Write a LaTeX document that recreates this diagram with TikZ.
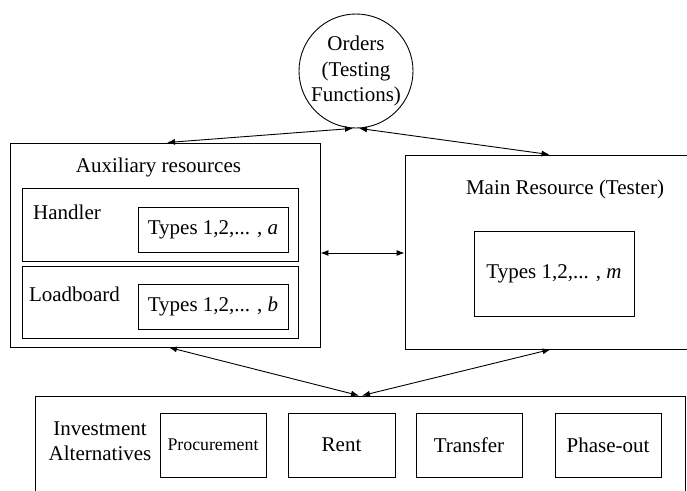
\documentclass[tikz,border=0pt]{standalone}
\usepackage{fontspec}
\setmainfont{Liberation Serif}
\newfontfamily\tnr{Liberation Serif}
\usetikzlibrary{arrows.meta}
\tikzset{
  box/.style={draw, line width=0.9pt, rectangle, inner sep=0pt},
  lbl/.style={inner sep=0pt, font=\tnr\fontsize{21}{25}\selectfont, align=center},
  small/.style={inner sep=0pt, font=\tnr\fontsize{17.8}{21}\selectfont, align=center},
  link/.style={line width=0.9pt, {Latex[length=8pt,width=6pt]}-{Latex[length=8pt,width=6pt]}}
}
\begin{document}
\begin{tikzpicture}[x=1pt,y=-1pt]
\useasboundingbox (0,0) rectangle (687,490);
\clip (0,0) rectangle (687,490);
% Orders
\node[draw, circle, line width=0.9pt, minimum size=114pt, inner sep=0pt, font=\tnr\fontsize{21}{25.5}\selectfont, align=center] (orders) at (356,71) {Orders\\(Testing\\Functions)};
% Auxiliary
\node[box, minimum width=310pt, minimum height=204pt] (aux) at (165,245) {};
\node[lbl] (auxl) at (158.5,167) {Auxiliary resources};
\node[box, minimum width=276pt, minimum height=73pt] (handler) at (160,224.5) {};
\node[lbl] (handl) at (67,212) {Handler};
\node[box, minimum width=150pt, minimum height=45pt, lbl] (typa) at (213,229.5) {Types 1,2,... , \textit{a}};
\node[box, minimum width=276pt, minimum height=72pt] (load) at (160,302) {};
\node[lbl] (loadl) at (74.5,294) {Loadboard};
\node[box, minimum width=150pt, minimum height=45pt, lbl] (typb) at (213,306.5) {Types 1,2,... , \textit{b}};
% Main
\node[box, minimum width=315pt, minimum height=194pt] (main) at (562.5,252) {};
\node[lbl] (mainl) at (565,189) {Main Resource (Tester)};
\node[box, minimum width=160pt, minimum height=85pt, lbl] (typm) at (554,273.5) {Types 1,2,... , \textit{m}};
% Bottom
\node[box, minimum width=650pt, minimum height=124pt] (inv) at (360,458) {};
\node[lbl] (invl) at (100,441) {Investment\\Alternatives};
\node[box, minimum width=106pt, minimum height=64pt, small] (proc) at (213,445) {Procurement};
\node[box, minimum width=107pt, minimum height=64pt, lbl] (rent) at (341.5,445) {Rent};
\node[box, minimum width=106pt, minimum height=64pt, lbl] (trans) at (469,445) {Transfer};
\node[box, minimum width=106pt, minimum height=64pt, lbl] (phase) at (608,445) {Phase-out};
% Connectors
\draw[link] (orders.267) -- ([xshift=2pt]aux.north);
\draw[link] (orders.273) -- ([xshift=-13pt]main.north);
\draw[link] ([yshift=-8pt]aux.east) -- ([yshift=-1pt]main.west);
\draw[link] ([xshift=4pt]aux.south) -- ([xshift=-1pt]inv.north);
\draw[link] ([xshift=-12pt]main.south) -- ([xshift=2pt]inv.north);
\end{tikzpicture}
\end{document}
